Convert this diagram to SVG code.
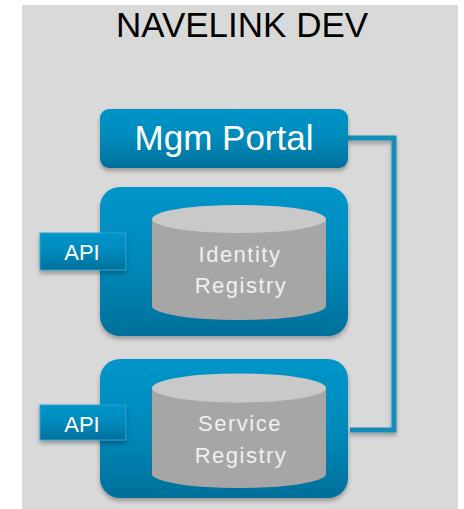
<svg xmlns="http://www.w3.org/2000/svg" width="464" height="509" viewBox="0 0 464 509">
<defs>
<linearGradient id="blue" x1="0" y1="0" x2="0" y2="1">
<stop offset="0" stop-color="#0095c9"/>
<stop offset="0.5" stop-color="#008abb"/>
<stop offset="1" stop-color="#006f99"/>
</linearGradient>
<filter id="sh" x="-10%" y="-10%" width="120%" height="130%">
<feDropShadow dx="0" dy="3" stdDeviation="2" flood-color="#000" flood-opacity="0.3"/>
</filter>
<style>
.box{fill:url(#blue);filter:url(#sh)}
.api{fill:url(#blue);stroke:#2aa3cf;stroke-width:1;filter:url(#sh)}
.wt{font-family:"Liberation Sans",Arial,sans-serif;fill:#ffffff;text-anchor:middle}
.gt{font-family:"Liberation Sans",Arial,sans-serif;fill:#f0f0f0;text-anchor:middle;font-size:22px;letter-spacing:1.5px}
.cylb{fill:#a6a6a6}
.cylt{fill:#c9c9c9}
.conn{fill:none;stroke:#178cb8;stroke-width:5;filter:url(#sh)}
</style>
</defs>
<rect x="22" y="5" width="436" height="504" fill="#d9d9d9"/>
<text x="242" y="37" font-family="'Liberation Sans',Arial,sans-serif" font-size="35" fill="#000" text-anchor="middle">NAVELINK DEV</text>
<g id="connectors">
<path class="conn" d="M348,138 H394 V430 H350"/>
<path class="conn" d="M348,261 H394"/>
</g>
<g id="mgm-portal">
<rect class="box" x="100" y="109" width="248" height="59" rx="9"/>
<text class="wt" x="224" y="150" font-size="35">Mgm Portal</text>
</g>
<g id="identity-registry">
<rect class="box" x="100" y="187" width="248" height="149" rx="20"/>
<path class="cylb" d="M152,219 V306 A87,14 0 0 0 326,306 V219 Z"/>
<ellipse class="cylt" cx="239" cy="219" rx="87" ry="14"/>
<text class="gt" x="240" y="262">Identity</text>
<text class="gt" x="241" y="293">Registry</text>
</g>
<g id="api-identity">
<rect class="api" x="40" y="233" width="86" height="37"/>
<text class="wt" x="82" y="260" font-size="22">API</text>
</g>
<g id="service-registry">
<rect class="box" x="100" y="359" width="248" height="139" rx="20"/>
<path class="cylb" d="M152,388 V474 A87,14 0 0 0 326,474 V388 Z"/>
<ellipse class="cylt" cx="239" cy="388" rx="87" ry="14.5"/>
<text class="gt" x="240" y="431">Service</text>
<text class="gt" x="241" y="463">Registry</text>
</g>
<g id="api-service">
<rect class="api" x="40" y="405" width="86" height="35"/>
<text class="wt" x="82" y="432" font-size="22">API</text>
</g>
</svg>
